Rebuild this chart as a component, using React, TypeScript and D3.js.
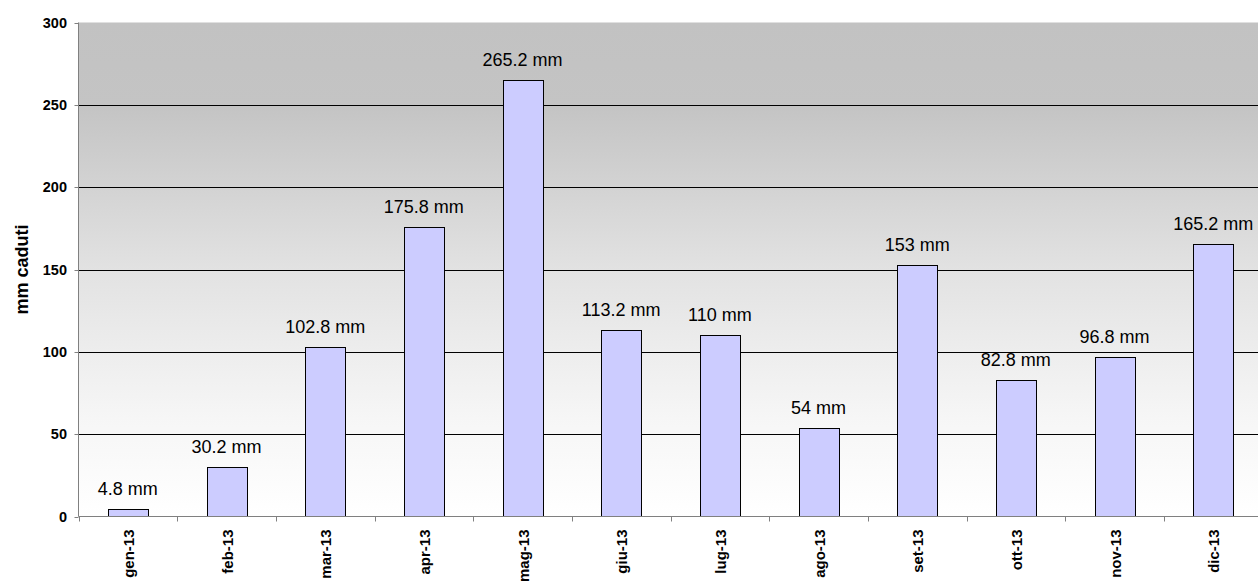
import React from "react";
import * as d3 from "d3";

const months = ["gen-13", "feb-13", "mar-13", "apr-13", "mag-13", "giu-13", "lug-13", "ago-13", "set-13", "ott-13", "nov-13", "dic-13"];
const rainfall = [4.8, 30.2, 102.8, 175.8, 265.2, 113.2, 110, 54, 153, 82.8, 96.8, 165.2];
const yTicks = [0, 50, 100, 150, 200, 250, 300];
const yTitle = "mm caduti";

const W = 1258;
const H = 587;
const left = 78.5;
const right = 1262.5;
const top = 22.5;
const bottom = 516.5;

export default function App() {
  const x = d3.scaleBand<string>().domain(months).range([left, right]).padding(0);
  const y = d3.scaleLinear().domain([0, 300]).range([bottom, top]);
  const bw = x.bandwidth();
  const barW = bw * 0.405;
  const font = "Arial, 'Liberation Sans', Helvetica, sans-serif";

  return (
    <svg width={W} height={H} style={{ position: "absolute", left: 0, top: 0, background: "#fff" }}>
      <defs>
        <linearGradient id="bg" x1="0" y1="0" x2="0" y2="1">
          <stop offset="0" stopColor="#c2c2c2" />
          <stop offset="0.17" stopColor="#c4c4c4" />
          <stop offset="0.5" stopColor="#e2e2e2" />
          <stop offset="0.8" stopColor="#f6f6f6" />
          <stop offset="1" stopColor="#ffffff" />
        </linearGradient>
      </defs>
      <rect x={left} y={top} width={right - left} height={bottom - top} fill="url(#bg)" />
      <line x1={left} x2={right} y1={top} y2={top} stroke="#e0e0e0" />
      {yTicks.filter((t) => t > 0 && t < 300).map((t) => (
        <line key={"g" + t} x1={left} x2={right} y1={Math.round(y(t)) + 0.5} y2={Math.round(y(t)) + 0.5} stroke="#000" strokeWidth={1} />
      ))}
      {months.map((m, i) => {
        const cx = (x(m) as number) + bw / 2;
        const yv = y(rainfall[i]);
        return (
          <g key={m}>
            <rect x={Math.round(cx - barW / 2) + 0.5} y={Math.round(yv) + 0.5} width={Math.round(barW)} height={bottom - Math.round(yv) - 0.5} fill="#ccccff" stroke="#000" strokeWidth={1} />
            <text x={cx} y={yv - 14} textAnchor="middle" fontFamily={font} fontSize={18} fill="#000">
              {`${rainfall[i]} mm`}
            </text>
            <text transform={`translate(${cx + 6},${bottom + 13}) rotate(-90)`} textAnchor="end" fontFamily={font} fontSize={15} fontWeight="bold" fill="#000">
              {m}
            </text>
          </g>
        );
      })}
      <line x1={left} x2={left} y1={top} y2={bottom} stroke="#808080" strokeWidth={1} />
      <line x1={left} x2={right} y1={bottom} y2={bottom} stroke="#808080" strokeWidth={1} />
      {yTicks.map((t) => (
        <g key={"t" + t}>
          <line x1={left - 4} x2={left} y1={Math.round(y(t)) + 0.5} y2={Math.round(y(t)) + 0.5} stroke="#808080" />
          <text x={67} y={y(t) + 5} textAnchor="end" fontFamily={font} fontSize={14.5} fontWeight="bold" fill="#000">
            {t}
          </text>
        </g>
      ))}
      {months.map((m) => (
        <line key={"xt" + m} x1={Math.round(x(m) as number) + 0.5} x2={Math.round(x(m) as number) + 0.5} y1={bottom} y2={bottom + 5} stroke="#808080" />
      ))}
      <text transform={`translate(28,${(top + bottom) / 2}) rotate(-90)`} textAnchor="middle" fontFamily={font} fontSize={18} fontWeight="bold" fill="#000">
        {yTitle}
      </text>
    </svg>
  );
}
